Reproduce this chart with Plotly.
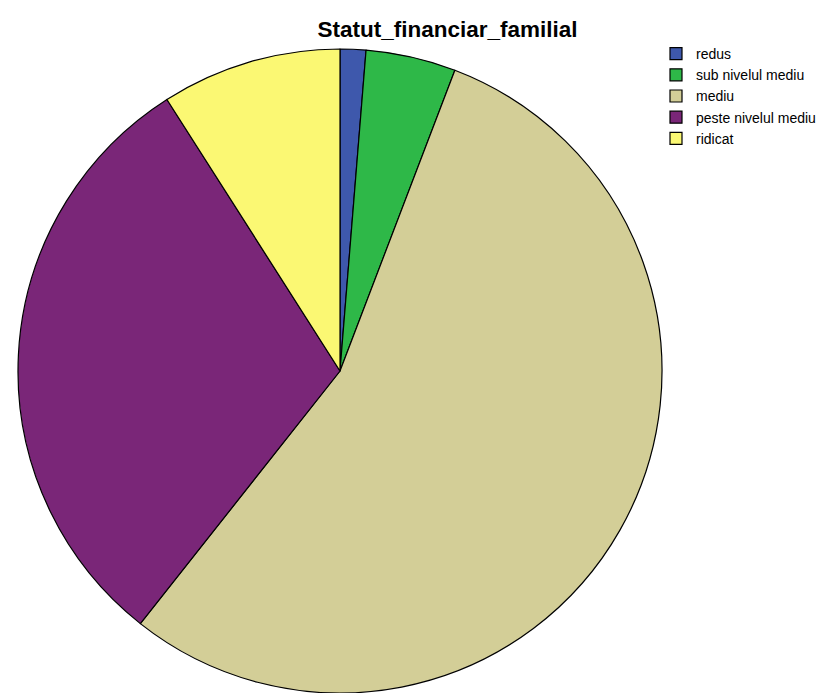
import plotly.graph_objects as go

categories = ["redus", "sub nivelul mediu", "mediu", "peste nivelul mediu", "ridicat"]
counts = [2, 7, 85, 47, 14]
colors = ["#3E58AC", "#2EB848", "#D3CE97", "#7A2678", "#FBF873"]

W, H = 824, 693
cx, cy, r = 340, 371, 322

fig = go.Figure(go.Pie(
    labels=categories,
    values=counts,
    sort=False,
    direction="clockwise",
    rotation=0,
    textinfo="none",
    hoverinfo="label+value+percent",
    marker=dict(colors=colors, line=dict(color="#000000", width=1.2)),
    domain=dict(x=[(cx - r) / W, (cx + r) / W], y=[max(0, (H - cy - r) / H), (H - cy + r) / H]),
))

fig.update_layout(
    width=W, height=H,
    margin=dict(l=0, r=0, t=0, b=0),
    paper_bgcolor="white",
    plot_bgcolor="white",
    title=dict(text="<b>Statut_financiar_familial</b>", x=447.5 / W, xanchor="center",
               y=1 - 29 / H, yanchor="middle",
               font=dict(family="Liberation Sans, Arial, sans-serif", size=22.5, color="#000000")),
    legend=dict(x=656 / W, y=1 - 38 / H, xanchor="left", yanchor="top",
                font=dict(family="Liberation Sans, Arial, sans-serif", size=14, color="#000000"),
                itemwidth=30, tracegroupgap=0, bgcolor="rgba(0,0,0,0)"),
    showlegend=True,
)

fig.write_html("out.html",
               config={"displayModeBar": False},
               post_script="document.body.style.margin='0';document.body.style.overflow='hidden';")
